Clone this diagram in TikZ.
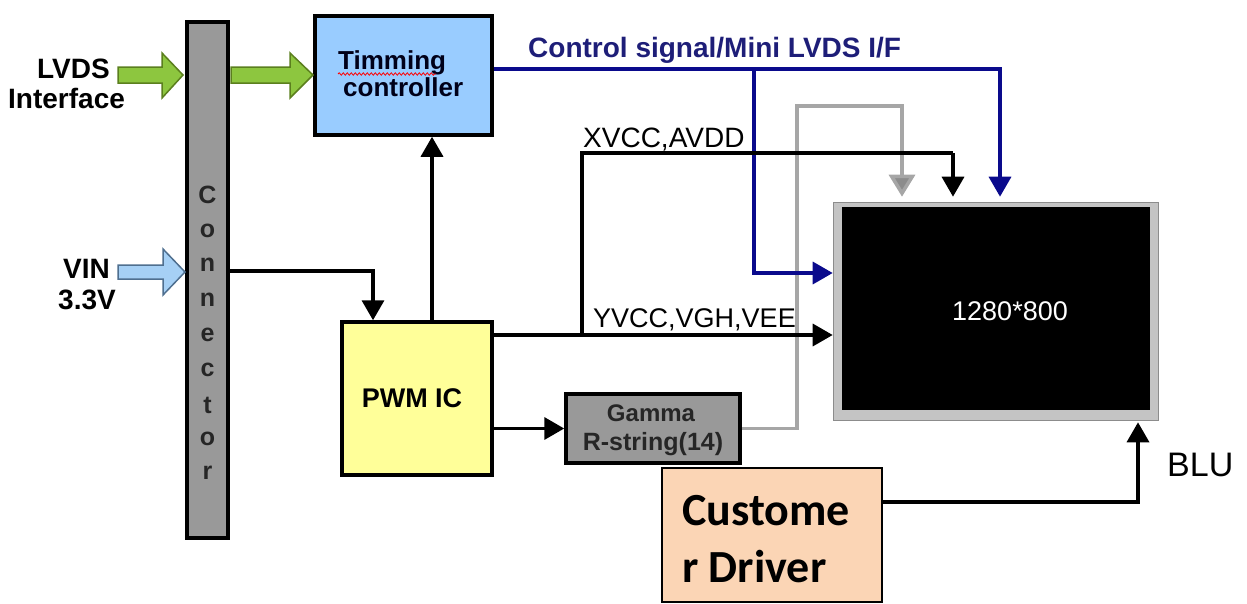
\documentclass[tikz,border=0pt]{standalone}
\usepackage{fontspec}
\setmainfont{Liberation Sans}
\newfontfamily\carlfont{Carlito}
\usetikzlibrary{arrows.meta,decorations.pathmorphing,calc}
\definecolor{tconblue}{HTML}{99CCFF}
\definecolor{pwmyel}{HTML}{FFFF99}
\definecolor{conngray}{HTML}{999999}
\definecolor{custpeach}{HTML}{FBD5B5}
\definecolor{navyline}{HTML}{0A0A8C}
\definecolor{navytext}{HTML}{1E1E78}
\definecolor{greenfill}{HTML}{8DC63F}
\definecolor{greenedge}{HTML}{5B7F1E}
\definecolor{vinfill}{HTML}{A6D0F5}
\definecolor{vinedge}{HTML}{4F6F8F}
\definecolor{grayline}{HTML}{A6A6A6}
\definecolor{graytip}{HTML}{8C8C8C}
\definecolor{scrframe}{HTML}{C4C4C4}
\begin{document}
\begin{tikzpicture}[x=1pt,y=-1pt,
  blk/.style={draw=black, line width=3.5pt, inner sep=0pt},
  pw/.style={draw=black, line width=3.5pt, -{Triangle[length=20pt,width=22pt]}},
  ctl/.style={draw=navyline, line width=3.5pt, -{Triangle[length=20pt,width=22pt]}},
  gry/.style={draw=grayline, line width=3.5pt, -{Triangle[length=22pt,width=26pt,fill=graytip]}},
  lbl/.style={inner sep=0pt, font=\fontsize{28}{32}\selectfont},
  lblb/.style={inner sep=0pt, font=\fontsize{28}{32}\selectfont\bfseries},
  bigarrow/.style={line width=1.5pt, line join=miter}
]
\useasboundingbox (0,0) rectangle (1247,603);

% blocks
\node[blk, fill=conngray, minimum width=41pt, minimum height=516pt] (conn) at (207.5,280) {};
\node[blk, fill=tconblue, minimum width=177pt, minimum height=119pt] (tcon) at (403.5,75.5) {};
\node[blk, fill=pwmyel, minimum width=150pt, minimum height=153pt] (pwm) at (417,398.5) {};
\node[blk, fill=conngray, minimum width=174pt, minimum height=69pt] (gamma) at (653,428.5) {};
\node[draw=black, line width=1.5pt, fill=custpeach, minimum width=220pt, minimum height=134pt, inner sep=0pt] (cust) at (772,535) {};
\node[fill=scrframe, draw=graytip, line width=0.6pt, minimum width=325pt, minimum height=218pt, inner sep=0pt] (screen) at (995.5,311) {};
\fill[black] (842,207) rectangle (1150,410);

% connector letters
\foreach \ch/\yy in {C/195,o/231,n/265,n/300,e/335,c/370,t/405,o/439,r/473}
  \node[lblb, font=\fontsize{25}{28}\selectfont\bfseries, text=black!85] at (207.5,\yy) {\ch};

% block texts
\node[lblb, font=\fontsize{26}{30}\selectfont\bfseries, anchor=base west, text=black!90!blue] (t1) at (338,69) {Timming};
\node[lblb, font=\fontsize{26}{30}\selectfont\bfseries, anchor=base west, text=black!90!blue] (t2) at (343,96) {controller};
\draw[red, line width=0.8pt, decorate, decoration={snake, amplitude=1.2pt, segment length=4pt}] (338,74) -- (436,74);
\node[lblb, font=\fontsize{27}{30}\selectfont\bfseries] (pwmt) at (412,398) {PWM IC};
\node[lblb, font=\fontsize{24}{28}\selectfont\bfseries, text=black!85] (g1) at (651,413) {Gamma};
\node[lblb, font=\fontsize{25}{28}\selectfont\bfseries, text=black!85] (g2) at (653,444) {R-string(14)};
\node[inner sep=0pt, anchor=base west, font=\carlfont\fontsize{46}{56}\selectfont\bfseries] (c1) at (682,525) {Custome};
\node[inner sep=0pt, anchor=base west, font=\carlfont\fontsize{46}{56}\selectfont\bfseries] (c2) at (682,582) {r Driver};
\node[lbl, font=\fontsize{27}{30}\selectfont, text=white, anchor=base] (res) at (1010,320) {1280*800};

% outside labels
\node[lblb, anchor=base west] (lv1) at (37,78) {LVDS};
\node[lblb, anchor=base west] (lv2) at (8,108) {Interface};
\node[lblb, anchor=base west] (vin1) at (63,278) {VIN};
\node[lblb, anchor=base west] (vin2) at (58,309) {3.3V};
\node[lblb, text=navytext, anchor=base west] (ctltxt) at (528,57) {Control signal/Mini LVDS I/F};
\node[lbl, anchor=base west] (xv) at (583,147) {XVCC,AVDD};
\node[lbl, font=\fontsize{27}{30}\selectfont, anchor=base west] (yv) at (593,327) {YVCC,VGH,VEE};
\node[lbl, font=\fontsize{34}{38}\selectfont, anchor=base west] (blu) at (1167,476) {BLU};

% block arrows
\draw[bigarrow, fill=greenfill, draw=greenedge] (118,67) -- (162,67) -- (162,53) -- (183,75) -- (162,98) -- (162,83) -- (118,83) -- cycle;
\draw[bigarrow, fill=greenfill, draw=greenedge] (231,67) -- (290,67) -- (290,53) -- (313,75) -- (290,98) -- (290,83) -- (231,83) -- cycle;
\draw[bigarrow, fill=vinfill, draw=vinedge] (118,265) -- (163,265) -- (163,249) -- (185,272) -- (163,295) -- (163,279) -- (118,279) -- cycle;

% junctions
\coordinate (j1) at (754,69);
\coordinate (j2) at (582,335);

% connectors
\draw[gry, shorten >=5pt] (gamma.east) -| (797,106) -| ([xshift=-93.5pt]screen.north);
\draw[ctl, shorten >=5pt] ([yshift=6.5pt]tcon.east) -| ([xshift=4.5pt]screen.north);
\draw[ctl] (j1) |- ([yshift=38pt]screen.west);
\draw[pw, -] (j2) |- (953,153);
\draw[pw, shorten >=5pt] (953,153) -- ([xshift=-42.5pt]screen.north);
\draw[pw] ([yshift=63.5pt]pwm.east) -- ([yshift=-24pt]screen.west);
\draw[pw] ([yshift=-30pt]pwm.east) -- (gamma.west);
\draw[pw] ([xshift=15pt]pwm.north) -- ([xshift=15pt]pwm.north |- tcon.south);
\draw[pw] ([yshift=9pt]conn.east) -| ([xshift=-44pt]pwm.north);
\draw[pw, shorten >=2pt] ([yshift=33pt]cust.east) -| ([xshift=142.5pt]screen.south);
\end{tikzpicture}
\end{document}
